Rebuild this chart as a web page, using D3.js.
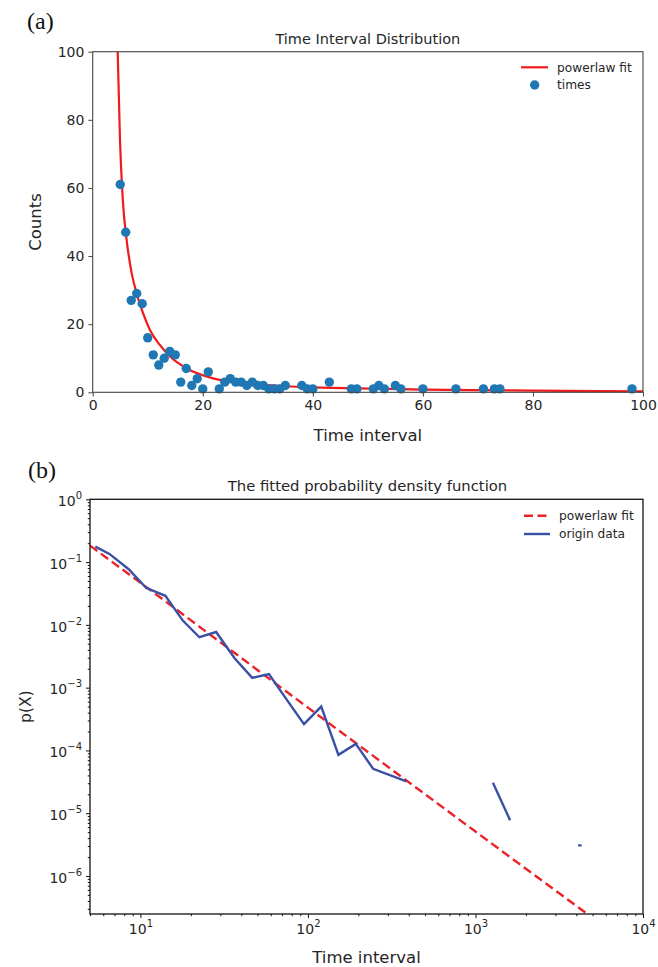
<!DOCTYPE html>
<meta charset="utf-8">

<body style="margin:0;background:#fff;">
    <svg id="chart" width="658" height="967"></svg>
</body>
<script src="https://cdn.jsdelivr.net/npm/d3@7"></script>
<script>
    // (a) scatter of counts per time interval
    let timesX = [5, 6, 7, 8, 9, 10, 11, 12, 13, 14, 15, 16, 17, 18, 19, 20, 21, 23, 24, 25, 26, 27, 28, 29, 30,
        31, 32, 33, 34, 35, 38, 39, 40, 43, 47, 48, 51, 52, 53, 55, 56, 60, 66, 71, 73, 74, 98];
    let timesY = [61, 47, 27, 29, 26, 16, 11, 8, 10, 12, 11, 3, 7, 2, 4, 1, 6, 1, 3, 4, 3, 3, 2, 3, 2,
        2, 1, 1, 1, 2, 2, 1, 1, 3, 1, 1, 1, 2, 1, 2, 1, 1, 1, 1, 1, 1, 1];
    // powerlaw fit curve
    let fitX = [4.54, 4.96, 5.45, 6.17, 7.08, 7.99, 9.2, 10.4, 12.2, 14.05, 17.1, 21.9, 28, 34, 40, 52, 60, 80, 100];
    let fitY = [100, 74, 57, 44.7, 35, 29, 23, 18.3, 13.9, 10.5, 7.0, 4.1, 2.6, 1.85, 1.45, 1.05, 0.8, 0.5, 0.3];
    let linTicks = [0, 20, 40, 60, 80, 100];

    // (b) log-log pdf, null = gap in the line
    let origX = [5.38, 6.53, 8.51, 10.8, 14.1, 17.9, 22.5, 28.3, 36.5, 46.5, 58.5, 74.3, 94.7, 120, 152, 193, 245, 387,
        800, 1271, 1610, 2600, 4100, 4300];
    let origY = [0.176, 0.135, 0.077, 0.039, 0.029, 0.0117, 0.00635, 0.0077, 0.00294, 0.00143, 0.00164, 0.000656,
        0.000262, 0.0005, 8.5e-5, 1.27e-4, 5.1e-5, 3.2e-5, null, 3.05e-5, 7.7e-6, null, 3.07e-6, 3.07e-6];
    let pdfFitX = [5, 10, 100, 1000, 10000];
    let pdfFitY = [0.183, 0.047, 4.8e-4, 5.1e-6, 5.5e-8];
    let logXTicks = [10, 100, 1000, 10000];
    let logYTicks = [1, 1e-1, 1e-2, 1e-3, 1e-4, 1e-5, 1e-6];

    let svg = d3.select('#chart'),
        font = '"DejaVu Sans", sans-serif',
        ink = '#262626';

    let sup = (sel, exps) => {
        sel.each(function (d, i) {
            let t = d3.select(this).text('');
            t.append('tspan').text('10');
            t.append('tspan').attr('dy', -7).attr('font-size', 10).text(exps(d));
        });
    };

    // ---------- panel (a) ----------
    let a = { l: 92.7, r: 643, t: 51.7, b: 392.3 };
    let xA = d3.scaleLinear().domain([0, 100]).range([a.l, a.r]);
    let yA = d3.scaleLinear().domain([0, 100]).range([a.b, a.t]);
    let gA = svg.append('g');

    gA.append('defs').append('clipPath').attr('id', 'clipA')
        .append('rect').attr('x', a.l).attr('y', a.t).attr('width', a.r - a.l).attr('height', a.b - a.t);

    gA.append('path')
        .datum(fitX.map((x, i) => [x, fitY[i]]))
        .attr('clip-path', 'url(#clipA)')
        .attr('fill', 'none').attr('stroke', '#f01a1a').attr('stroke-width', 2.2)
        .attr('d', d3.line().x(d => xA(d[0])).y(d => yA(d[1])).curve(d3.curveMonotoneX));

    gA.selectAll('circle.pt').data(timesX).join('circle')
        .attr('class', 'pt')
        .attr('cx', d => xA(d)).attr('cy', (d, i) => yA(timesY[i])).attr('r', 4.7)
        .attr('fill', '#1f77b4');

    let axA = (g, ax) => {
        g.call(ax);
        g.select('.domain').remove();
        g.selectAll('line').attr('stroke', '#444');
        g.selectAll('text').attr('font-family', font).attr('font-size', 14).attr('fill', ink);
    };
    gA.append('g').attr('transform', `translate(0,${a.b})`)
        .call(g => axA(g, d3.axisBottom(xA).tickValues(linTicks).tickSize(4.3).tickPadding(3)));
    gA.append('g').attr('transform', `translate(${a.l},0)`)
        .call(g => axA(g, d3.axisLeft(yA).tickValues(linTicks).tickSize(4.3).tickPadding(4)));

    gA.append('rect').attr('x', a.l).attr('y', a.t).attr('width', a.r - a.l).attr('height', a.b - a.t)
        .attr('fill', 'none').attr('stroke', '#444').attr('stroke-width', 1.1);

    gA.append('text').attr('x', (a.l + a.r) / 2).attr('y', 44).attr('text-anchor', 'middle')
        .attr('font-family', font).attr('font-size', 14.5).attr('fill', ink).text('Time Interval Distribution');
    gA.append('text').attr('x', (a.l + a.r) / 2).attr('y', 441).attr('text-anchor', 'middle')
        .attr('font-family', font).attr('font-size', 16.5).attr('fill', ink).text('Time interval');
    gA.append('text').attr('transform', `translate(41,${(a.t + a.b) / 2}) rotate(-90)`).attr('text-anchor', 'middle')
        .attr('font-family', font).attr('font-size', 16.5).attr('fill', ink).text('Counts');

    // legend (a)
    gA.append('line').attr('x1', 521).attr('x2', 548).attr('y1', 67.3).attr('y2', 67.3)
        .attr('stroke', '#f01a1a').attr('stroke-width', 2.2);
    gA.append('circle').attr('cx', 534.7).attr('cy', 85).attr('r', 4.7).attr('fill', '#1f77b4');
    gA.selectAll('text.lg').data(['powerlaw fit', 'times']).join('text').attr('class', 'lg')
        .attr('x', 557).attr('y', (d, i) => 67.3 + i * 17.7).attr('dy', '0.35em')
        .attr('font-family', font).attr('font-size', 12.2).attr('fill', ink).text(d => d);

    // ---------- panel (b) ----------
    let b = { l: 90, r: 643, t: 499.3, b: 914 };
    let xB = d3.scaleLog().domain([5, 10000]).range([b.l, b.r]);
    let yB = d3.scaleLog().domain([2.48e-7, 1]).range([b.b, b.t]);
    let gB = svg.append('g');

    gB.append('defs').append('clipPath').attr('id', 'clipB')
        .append('rect').attr('x', b.l).attr('y', b.t).attr('width', b.r - b.l).attr('height', b.b - b.t);

    gB.append('path')
        .datum(pdfFitX.map((x, i) => [x, pdfFitY[i]]))
        .attr('clip-path', 'url(#clipB)')
        .attr('fill', 'none').attr('stroke', '#ec2229').attr('stroke-width', 2.4).attr('stroke-dasharray', '9,4.5')
        .attr('d', d3.line().x(d => xB(d[0])).y(d => yB(d[1])));

    gB.append('path')
        .datum(origX.map((x, i) => [x, origY[i]]))
        .attr('clip-path', 'url(#clipB)')
        .attr('fill', 'none').attr('stroke', '#3a4fa6').attr('stroke-width', 2.4).attr('stroke-linejoin', 'miter')
        .attr('d', d3.line().defined(d => d[1] != null).x(d => xB(d[0])).y(d => yB(d[1])));

    // minor ticks at 2..9 of every decade
    let minorX = [], minorY = [];
    for (let e = 0; e <= 3; e++) for (let m = 2; m <= 9; m++) {
        let v = m * Math.pow(10, e);
        if (v >= 5 && v < 10000) minorX.push(v);
    }
    for (let e = -7; e <= -1; e++) for (let m = 2; m <= 9; m++) {
        let v = m * Math.pow(10, e);
        if (v >= 2.48e-7 && v < 1) minorY.push(v);
    }

    let axB = (g, ax) => {
        g.call(ax);
        g.select('.domain').remove();
        g.selectAll('line').attr('stroke', '#111');
        g.selectAll('text').attr('font-family', font).attr('font-size', 14).attr('fill', ink);
    };
    gB.append('g').attr('transform', `translate(0,${b.b})`)
        .call(g => axB(g, d3.axisBottom(xB).tickValues(minorX).tickSize(2.2).tickFormat('')));
    gB.append('g').attr('transform', `translate(${b.l},0)`)
        .call(g => axB(g, d3.axisLeft(yB).tickValues(minorY).tickSize(2.2).tickFormat('')));
    gB.append('g').attr('transform', `translate(0,${b.b})`)
        .call(g => axB(g, d3.axisBottom(xB).tickValues(logXTicks).tickSize(4).tickPadding(6)))
        .call(g => g.selectAll('text').call(sup, d => String(Math.round(Math.log10(d))))
            .attr('text-anchor', 'middle'));
    gB.append('g').attr('transform', `translate(${b.l},0)`)
        .call(g => axB(g, d3.axisLeft(yB).tickValues(logYTicks).tickSize(4).tickPadding(4)))
        .call(g => g.selectAll('text').call(sup, d => {
            let e = Math.round(Math.log10(d));
            return e < 0 ? '\u2212' + (-e) : String(e);
        }).attr('dy', '0.45em'));

    gB.append('rect').attr('x', b.l).attr('y', b.t).attr('width', b.r - b.l).attr('height', b.b - b.t)
        .attr('fill', 'none').attr('stroke', '#111').attr('stroke-width', 1.3);

    gB.append('text').attr('x', (b.l + b.r) / 2 + 1).attr('y', 491).attr('text-anchor', 'middle')
        .attr('font-family', font).attr('font-size', 14.8).attr('fill', ink).text('The fitted probability density function');
    gB.append('text').attr('x', (b.l + b.r) / 2).attr('y', 963).attr('text-anchor', 'middle')
        .attr('font-family', font).attr('font-size', 16.5).attr('fill', ink).text('Time interval');
    gB.append('text').attr('transform', `translate(31,${(b.t + b.b) / 2}) rotate(-90)`).attr('text-anchor', 'middle')
        .attr('font-family', font).attr('font-size', 15.5).attr('fill', ink).text('p(X)');

    // legend (b)
    gB.append('line').attr('x1', 524).attr('x2', 550).attr('y1', 515.7).attr('y2', 515.7)
        .attr('stroke', '#ec2229').attr('stroke-width', 2.4).attr('stroke-dasharray', '9,4.5');
    gB.append('line').attr('x1', 524).attr('x2', 550).attr('y1', 534).attr('y2', 534)
        .attr('stroke', '#3a4fa6').attr('stroke-width', 2.4);
    gB.selectAll('text.lg').data(['powerlaw fit', 'origin data']).join('text').attr('class', 'lg')
        .attr('x', 559).attr('y', (d, i) => 515.7 + i * 18.3).attr('dy', '0.35em')
        .attr('font-family', font).attr('font-size', 12.2).attr('fill', ink).text(d => d);

    // panel letters
    svg.append('text').attr('x', 27).attr('y', 29).attr('font-family', '"Liberation Serif", serif')
        .attr('font-size', 24).attr('fill', '#111').text('(a)');
    svg.append('text').attr('x', 28).attr('y', 478).attr('font-family', '"Liberation Serif", serif')
        .attr('font-size', 24).attr('fill', '#111').text('(b)');
</script>
